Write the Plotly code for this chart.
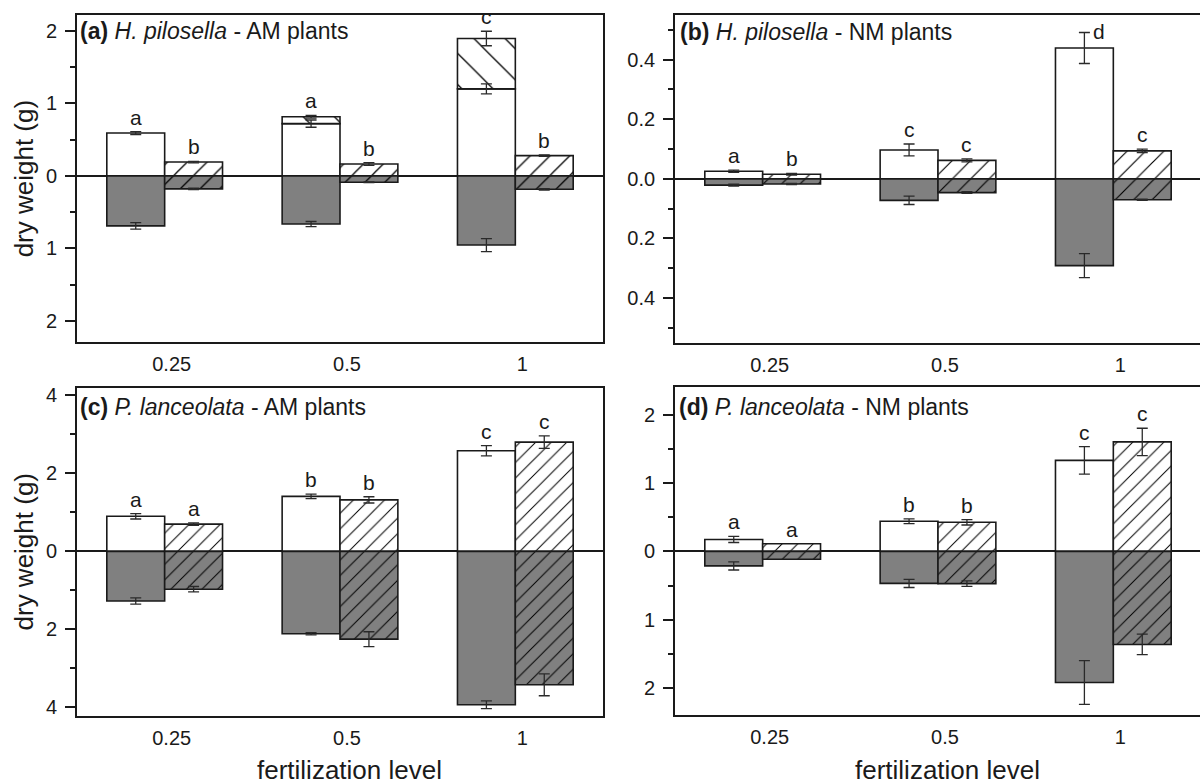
import plotly.graph_objects as go
from plotly.subplots import make_subplots

# fertilization levels (category axis)
levels = ["0.25", "0.5", "1"]
pos = [0, 1, 2]

# (a) H. pilosella - AM plants  (g dry weight; roots drawn as negative values)
a_shoot_open = [0.59, 0.72, 1.20]
a_shoot_open_err = [0.02, 0.05, 0.07]
a_flower_open = [None, 0.095, 0.695]
a_flower_open_err = [None, 0.02, 0.10]
a_root_open = [-0.69, -0.665, -0.955]
a_root_open_err = [0.045, 0.035, 0.09]
a_shoot_hatch = [0.19, 0.163, 0.279]
a_shoot_hatch_err = [0.01, 0.02, 0.01]
a_root_hatch = [-0.18, -0.088, -0.186]
a_root_hatch_err = [0.01, 0.005, 0.01]
a_letters_open = ["a", "a", "c"]
a_letters_hatch = ["b", "b", "b"]

# (b) H. pilosella - NM plants
b_shoot_open = [0.0256, 0.097, 0.439]
b_shoot_open_err = [0.004, 0.02, 0.052]
b_root_open = [-0.021, -0.072, -0.291]
b_root_open_err = [0.003, 0.014, 0.04]
b_shoot_hatch = [0.0156, 0.062, 0.094]
b_shoot_hatch_err = [0.003, 0.005, 0.006]
b_root_hatch = [-0.017, -0.046, -0.07]
b_root_hatch_err = [0.002, 0.003, 0.002]
b_letters_open = ["a", "c", "d"]
b_letters_hatch = ["b", "c", "c"]

# (c) P. lanceolata - AM plants
c_shoot_open = [0.90, 1.41, 2.58]
c_shoot_open_err = [0.07, 0.06, 0.13]
c_root_open = [-1.27, -2.11, -3.93]
c_root_open_err = [0.08, 0.03, 0.10]
c_shoot_hatch = [0.70, 1.32, 2.80]
c_shoot_hatch_err = [0.03, 0.08, 0.16]
c_root_hatch = [-0.97, -2.25, -3.42]
c_root_hatch_err = [0.07, 0.19, 0.28]
c_letters_open = ["a", "b", "c"]
c_letters_hatch = ["a", "b", "c"]

# (d) P. lanceolata - NM plants
d_shoot_open = [0.174, 0.44, 1.33]
d_shoot_open_err = [0.045, 0.035, 0.20]
d_root_open = [-0.213, -0.469, -1.918]
d_root_open_err = [0.06, 0.06, 0.32]
d_shoot_hatch = [0.111, 0.425, 1.60]
d_shoot_hatch_err = [0.0, 0.04, 0.20]
d_root_hatch = [-0.116, -0.473, -1.362]
d_root_hatch_err = [0.0, 0.04, 0.15]
d_letters_open = ["a", "b", "c"]
d_letters_hatch = ["a", "b", "c"]

W, H = 1200, 784
FONT = "Liberation Sans, Arial, sans-serif"
INK = "#1a1a1a"
GRAY = "#808080"
BAR_W = 0.33
OFF = BAR_W / 2

fig = make_subplots(rows=2, cols=2)
annotations = []


def px_x(p):
    return p / W


def px_y(p):
    return 1 - p / H


def hatch_style(shape, size, bg, solidity):
    return dict(shape=shape, size=size, solidity=solidity, fillmode="replace",
                fgcolor="#000000", fgopacity=1, bgcolor=bg)


def add_errors(row, col, xs, ys, errs):
    pts = [(x, y, e) for x, y, e in zip(xs, ys, errs) if y is not None and e]
    if not pts:
        return
    fig.add_trace(go.Scatter(
        x=[p[0] for p in pts], y=[p[1] for p in pts], mode="markers",
        marker=dict(size=1, color="rgba(0,0,0,0)"),
        error_y=dict(type="data", array=[p[2] for p in pts], color="#2a2a2a",
                     thickness=1.3, width=5.5),
        showlegend=False, hoverinfo="skip"), row=row, col=col)


def add_panel(row, col, shoot_o, shoot_o_err, root_o, root_o_err,
              shoot_h, shoot_h_err, root_h, root_h_err,
              letters_o, letters_h, flower_o=None, flower_o_err=None,
              hatch=13, beside=()):
    xl = [p - OFF for p in pos]
    xr = [p + OFF for p in pos]
    edge = dict(color=INK, width=1.6)
    fig.add_trace(go.Bar(x=xl, y=shoot_o, width=BAR_W,
                         marker=dict(color="white", line=edge),
                         showlegend=False), row=row, col=col)
    if flower_o:
        fig.add_trace(go.Bar(x=xl, y=flower_o, width=BAR_W,
                             marker=dict(color="white", line=edge,
                                         pattern=hatch_style("\\", 22, "white", 0.06)),
                             showlegend=False), row=row, col=col)
    fig.add_trace(go.Bar(x=xl, y=root_o, width=BAR_W,
                         marker=dict(color=GRAY, line=edge), showlegend=False),
                  row=row, col=col)
    fig.add_trace(go.Bar(x=xr, y=shoot_h, width=BAR_W,
                         marker=dict(color="white", line=edge,
                                     pattern=hatch_style("/", hatch, "white", 0.09)),
                         showlegend=False), row=row, col=col)
    fig.add_trace(go.Bar(x=xr, y=root_h, width=BAR_W,
                         marker=dict(color=GRAY, line=edge,
                                     pattern=hatch_style("/", hatch, GRAY, 0.09)),
                         showlegend=False), row=row, col=col)

    add_errors(row, col, xl, shoot_o, shoot_o_err)
    tops_o = list(shoot_o)
    tops_o_err = list(shoot_o_err)
    if flower_o:
        cum = [s + (f or 0) for s, f in zip(shoot_o, flower_o)]
        add_errors(row, col, xl, [c if f else None for c, f in zip(cum, flower_o)], flower_o_err)
        for i, f in enumerate(flower_o):
            if f:
                tops_o[i] = cum[i]
                tops_o_err[i] = flower_o_err[i]
    add_errors(row, col, xl, root_o, root_o_err)
    add_errors(row, col, xr, shoot_h, shoot_h_err)
    add_errors(row, col, xr, root_h, root_h_err)

    n = (row - 1) * 2 + col
    sfx = "" if n == 1 else str(n)
    for i in range(3):
        for side, x, top, err, lab in (("o", xl[i], tops_o[i], tops_o_err[i], letters_o[i]),
                                       ("h", xr[i], shoot_h[i], shoot_h_err[i], letters_h[i])):
            ann = dict(x=x, y=top + (err or 0), text=lab, showarrow=False,
                       xref="x" + sfx, yref="y" + sfx,
                       font=dict(family=FONT, size=21, color=INK))
            if side == "o" and i in beside:
                # no head-room under the frame: set the letter next to the cap
                ann.update(xanchor="left", yanchor="middle", xshift=7, yshift=1)
            else:
                ann.update(yanchor="bottom", yshift=1)
            annotations.append(ann)


add_panel(1, 1, a_shoot_open, a_shoot_open_err, a_root_open, a_root_open_err,
          a_shoot_hatch, a_shoot_hatch_err, a_root_hatch, a_root_hatch_err,
          a_letters_open, a_letters_hatch, a_flower_open, a_flower_open_err, hatch=14)
add_panel(1, 2, b_shoot_open, b_shoot_open_err, b_root_open, b_root_open_err,
          b_shoot_hatch, b_shoot_hatch_err, b_root_hatch, b_root_hatch_err,
          b_letters_open, b_letters_hatch, hatch=13, beside=(2,))
add_panel(2, 1, c_shoot_open, c_shoot_open_err, c_root_open, c_root_open_err,
          c_shoot_hatch, c_shoot_hatch_err, c_root_hatch, c_root_hatch_err,
          c_letters_open, c_letters_hatch, hatch=11)
add_panel(2, 2, d_shoot_open, d_shoot_open_err, d_root_open, d_root_open_err,
          d_shoot_hatch, d_shoot_hatch_err, d_root_hatch, d_root_hatch_err,
          d_letters_open, d_letters_hatch, hatch=11)

tick_font = dict(family=FONT, size=20, color=INK)


def xaxis_style(domain, rng):
    return dict(domain=domain, range=rng, tickmode="array", tickvals=pos, ticktext=levels,
                ticks="", showline=True, linecolor=INK, linewidth=1.8, mirror=True,
                showgrid=False, zeroline=False, tickfont=tick_font,
                ticklabelshift=7, ticklabelstandoff=3)


def yaxis_style(domain, rng, major, minor, labels, mirror):
    return dict(domain=domain, range=rng, tickmode="array", tickvals=major, ticktext=labels,
                ticks="outside", ticklen=10, tickwidth=1.5, tickcolor=INK,
                minor=dict(tickmode="array", tickvals=minor, ticks="outside", ticklen=5,
                           tickwidth=1.5, tickcolor=INK, showgrid=False),
                showline=True, linecolor=INK, linewidth=1.8, mirror=mirror,
                showgrid=False, zeroline=True, zerolinecolor=INK, zerolinewidth=1.5,
                tickfont=tick_font, ticklabelstandoff=4)


left_x = [px_x(77), px_x(603)]
right_x = [px_x(675), 1.0]
top_y = [px_y(341), px_y(12)]
top_y_r = [px_y(342), px_y(12)]
bot_y = [px_y(718), px_y(387)]
bot_y_r = [px_y(717), px_y(386)]
right_span = [-0.5, -0.5 + 3 * (1200 - 675) / (603 - 77)]

fig.update_layout(
    width=W, height=H, margin=dict(l=0, r=0, t=0, b=0),
    paper_bgcolor="white", plot_bgcolor="white", barmode="relative", showlegend=False,
    font=dict(family=FONT, color=INK),
    xaxis=xaxis_style(left_x, [-0.5, 2.5]),
    xaxis2=xaxis_style(right_x, right_span),
    xaxis3=xaxis_style(left_x, [-0.5, 2.5]),
    xaxis4=xaxis_style(right_x, right_span),
    yaxis=yaxis_style(top_y, [-2.29, 2.22], [-2, -1, 0, 1, 2], [-1.5, -0.5, 0.5, 1.5],
                      ["2", "1", "0", "1", "2"], True),
    yaxis2=yaxis_style(top_y_r, [-0.55, 0.55], [-0.4, -0.2, 0, 0.2, 0.4],
                       [-0.5, -0.3, -0.1, 0.1, 0.3, 0.5],
                       ["0.4", "0.2", "0.0", "0.2", "0.4"], False),
    yaxis3=yaxis_style(bot_y, [-4.23, 4.2], [-4, -2, 0, 2, 4], [-3, -1, 1, 3],
                       ["4", "2", "0", "2", "4"], True),
    yaxis4=yaxis_style(bot_y_r, [-2.4, 2.41], [-2, -1, 0, 1, 2], [-1.5, -0.5, 0.5, 1.5],
                       ["2", "1", "0", "1", "2"], False),
)

titles = [
    ("<b>(a)</b> <i>H. pilosella</i> - AM plants", 78, 28),
    ("<b>(b)</b> <i>H. pilosella</i> - NM plants", 678, 29),
    ("<b>(c)</b> <i>P. lanceolata</i> - AM plants", 78, 407),
    ("<b>(d)</b> <i>P. lanceolata</i> - NM plants", 677, 407),
]
for text, x, y in titles:
    annotations.append(dict(x=px_x(x), y=px_y(y), xref="paper", yref="paper", text=text,
                            xanchor="left", yanchor="middle", showarrow=False,
                            font=dict(family=FONT, size=23, color=INK)))

for y in (176.5, 552):
    annotations.append(dict(x=px_x(24), y=px_y(y), xref="paper", yref="paper",
                            text="dry weight (g)", textangle=-90, showarrow=False,
                            xanchor="center", yanchor="middle",
                            font=dict(family=FONT, size=26, color=INK)))
for x in (349, 947):
    annotations.append(dict(x=px_x(x), y=px_y(772), xref="paper", yref="paper",
                            text="fertilization level", showarrow=False,
                            xanchor="center", yanchor="middle",
                            font=dict(family=FONT, size=26, color=INK)))

fig.update_layout(annotations=annotations)
fig.write_html("out.html")
